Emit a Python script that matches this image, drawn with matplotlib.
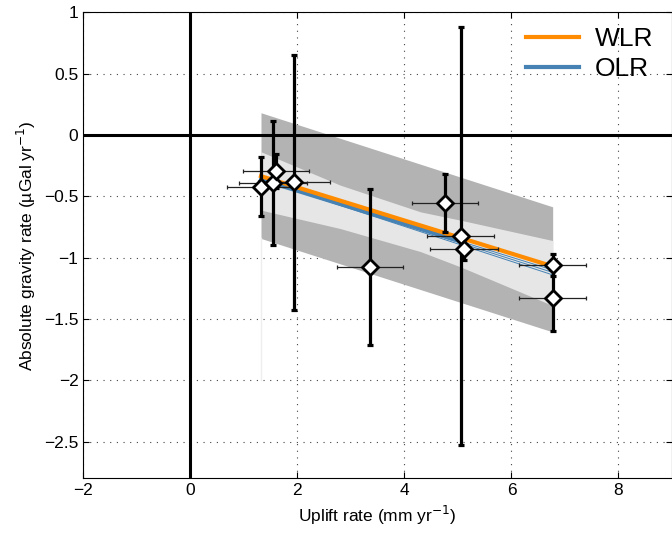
import matplotlib
matplotlib.use("Agg")
import matplotlib.pyplot as plt
import numpy as np

plt.rcParams['font.family'] = ['Liberation Sans', 'DejaVu Sans']
plt.rcParams['axes.unicode_minus'] = True

# ---- data ----
uplift = [1.32, 1.54, 1.60, 1.94, 3.36, 4.76, 5.05, 5.11, 6.77, 6.77]
uplift_err = [0.63, 0.64, 0.62, 0.67, 0.62, 0.62, 0.62, 0.63, 0.62, 0.62]
gravity = [-0.42, -0.39, -0.295, -0.385, -1.075, -0.556, -0.825, -0.925, -1.06, -1.325]
gravity_err = [0.24, 0.505, 0.14, 1.04, 0.633, 0.238, 1.705, 0.095, 0.09, 0.275]

# outer (prediction) band
band_x = [1.32, 6.77]
outer_top = [0.182, -0.585]
outer_bot = [-0.843, -1.605]
# inner (confidence) band
inner_x = [1.32, 2.8, 4.3, 5.05, 6.77]
inner_top = [-0.136, -0.408, -0.626, -0.694, -0.86]
inner_bot = [-0.612, -0.762, -0.95, -1.075, -1.39]

# regression lines
wlr_x = [1.32, 6.77]
wlr_y = [-0.335, -1.07]
olr_x = [1.32, 5.08]
olr_y = [-0.362, -0.87]
olr_thin_end = [-1.10, -1.12, -1.14]

xticks = [-2, 0, 2, 4, 6, 8]
yticks = [-2.5, -2, -1.5, -1, -0.5, 0, 0.5, 1]
yticklabels = ['\u22122.5', '\u22122', '\u22121.5', '\u22121', '\u22120.5', '0', '0.5', '1']
xticklabels = ['\u22122', '0', '2', '4', '6', '8']

fig = plt.figure(figsize=(6.72, 5.34), dpi=100)
ax = fig.add_axes([0.124, 0.104, 0.876, 0.8727])

ax.fill_between(band_x, outer_top, outer_bot, color='#b3b3b3', lw=0, zorder=1)
ax.fill_between(inner_x, inner_top, inner_bot, color='#e6e6e6', lw=0, zorder=2)
ax.plot([band_x[0], band_x[0]], [outer_bot[0], -2.0], color='#eeeeee', lw=1, zorder=1)

ax.axhline(0, color='black', lw=2.2, zorder=3)
ax.axvline(0, color='black', lw=2.2, zorder=3)

for e in olr_thin_end:
    ax.plot([olr_x[0], wlr_x[1]], [olr_y[0], e], color='#4682b4', lw=0.7, zorder=4)
l2, = ax.plot(olr_x, olr_y, color='#4682b4', lw=3, zorder=4, label='OLR')
l1, = ax.plot(wlr_x, wlr_y, color='#ff8c00', lw=3, zorder=5, label='WLR')

ax.errorbar(uplift, gravity, xerr=uplift_err, fmt='none', ecolor='#222222',
            elinewidth=0.9, capsize=1.5, capthick=0.9, zorder=6)
ax.errorbar(uplift, gravity, yerr=gravity_err, fmt='none', ecolor='black',
            elinewidth=2.3, capsize=2.5, capthick=2.3, zorder=7)
ax.plot(uplift, gravity, linestyle='none', marker='D', markersize=8,
        markerfacecolor='white', markeredgecolor='black', markeredgewidth=2, zorder=8)

ax.set_xlim(-2, 9)
ax.set_ylim(-2.8, 1)
ax.set_xticks(xticks)
ax.set_xticklabels(xticklabels)
ax.set_yticks(yticks)
ax.set_yticklabels(yticklabels)
ax.tick_params(direction='in', length=4, labelsize=12.5, top=True, right=True, width=0.8)
ax.grid(True, linestyle=(0, (1, 5)), color='#444444', lw=0.8)
ax.set_axisbelow(True)
for s in ax.spines.values():
    s.set_linewidth(0.8)

ax.set_xlabel('Uplift rate (mm yr$^{-1}$)', fontsize=12.5)
ax.set_ylabel('Absolute gravity rate (\u00b5Gal yr$^{-1}$)', fontsize=12.5)

ax.legend(handles=[l1, l2], loc='upper right', bbox_to_anchor=(1.008, 1.02), frameon=False,
          fontsize=19, handlelength=2.0, handletextpad=0.6, labelspacing=0.25)

fig.savefig('out.png', dpi=100)
